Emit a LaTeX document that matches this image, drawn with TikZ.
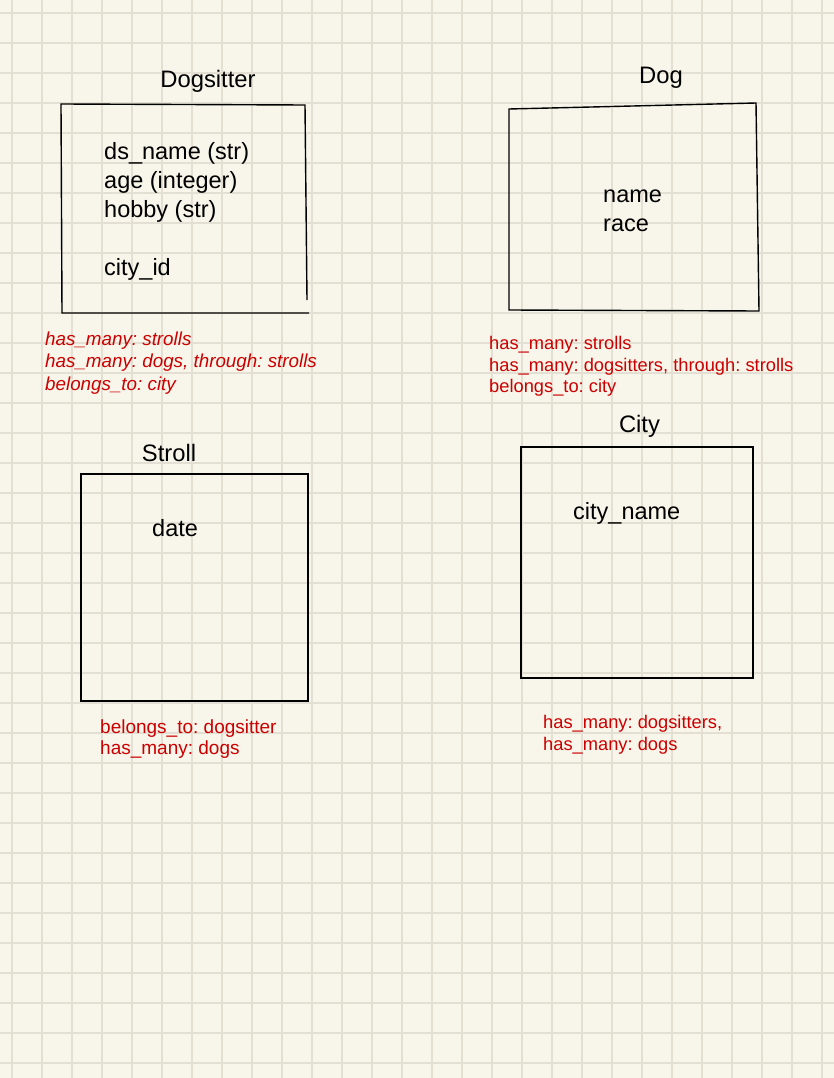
\documentclass[tikz,border=0pt]{standalone}
\usepackage{fontspec}
\setmainfont{Liberation Sans}
\definecolor{paper}{RGB}{248,246,234}
\definecolor{gridc}{RGB}{227,224,211}
\definecolor{relred}{RGB}{204,0,0}
\frenchspacing
\begin{document}
\begin{tikzpicture}[x=1pt,y=-1pt,
  title/.style={font=\fontsize{23.8}{28}\selectfont, anchor=base, inner sep=0pt},
  attr/.style={font=\fontsize{23.5}{28}\selectfont, anchor=base west, inner sep=0pt},
  rel/.style={font=\fontsize{18.3}{22}\selectfont, text=relred, anchor=base west, inner sep=0pt},
  relbig/.style={rel, font=\fontsize{19}{22}\selectfont},
  relit/.style={rel, font=\fontsize{18.8}{22}\selectfont\itshape},
  box/.style={draw=black, line width=1.4pt, line join=miter},
  gridline/.style={draw=gridc, line width=1.6pt}]
\fill[paper] (0,0) rectangle (834,1078);
\useasboundingbox (0,0) rectangle (834,1078);
\foreach \i in {0,...,27} \draw[gridline] ({12+30*\i},0) -- ({12+30*\i},1078);
\foreach \j in {0,...,35} \draw[gridline] (0,{13+30*\j}) -- (834,{13+30*\j});

% boxes
\draw[box] (307,300) -- (305,105) -- (61,104) -- (62,313) -- (309,313);
\draw[box] (509,109) -- (756,103) -- (759,311) -- (509,310) -- cycle;
\draw[box] (81,474) rectangle (308,701);
\draw[box] (521,447) rectangle (753,678);

% titles
\node[title] (dstitle) at (208,88) {Dogsitter};
\node[title] (dogtitle) at (661,84) {Dog};
\node[title] (strolltitle) at (169,461) {Stroll};
\node[title] (citytitle) at (639.5,432) {City};

% attributes
\node[attr] (dsname) at (104,160) {ds\_name (str)};
\node[attr] (dsage) at (104,189) {age (integer)};
\node[attr] (dshobby) at (104,218) {hobby (str)};
\node[attr] (dscity) at (104,275) {city\_id};

\node[attr] (dogname) at (603,202) {name};
\node[attr] (dograce) at (603,231) {race};

\node[attr] (strolldate) at (152,536) {date};

\node[attr] (cityname) at (573,519) {city\_name};

% relations
\node[relit] (dsr1) at (45,345) {has\_many: strolls};
\node[relit] (dsr2) at (45,367) {has\_many: dogs, through: strolls};
\node[relit] (dsr3) at (45,390) {belongs\_to: city};

\node[rel] (dogr1) at (489,349) {has\_many: strolls};
\node[rel] (dogr2) at (489,371) {has\_many: dogsitters, through: strolls};
\node[rel] (dogr3) at (489,392) {belongs\_to: city};

\node[relbig] (str1) at (100,733) {belongs\_to: dogsitter};
\node[relbig] (str2) at (100,754) {has\_many: dogs};

\node[rel] (cr1) at (543,728) {has\_many: dogsitters,};
\node[rel] (cr2) at (543,750) {has\_many: dogs};
\end{tikzpicture}
\end{document}
